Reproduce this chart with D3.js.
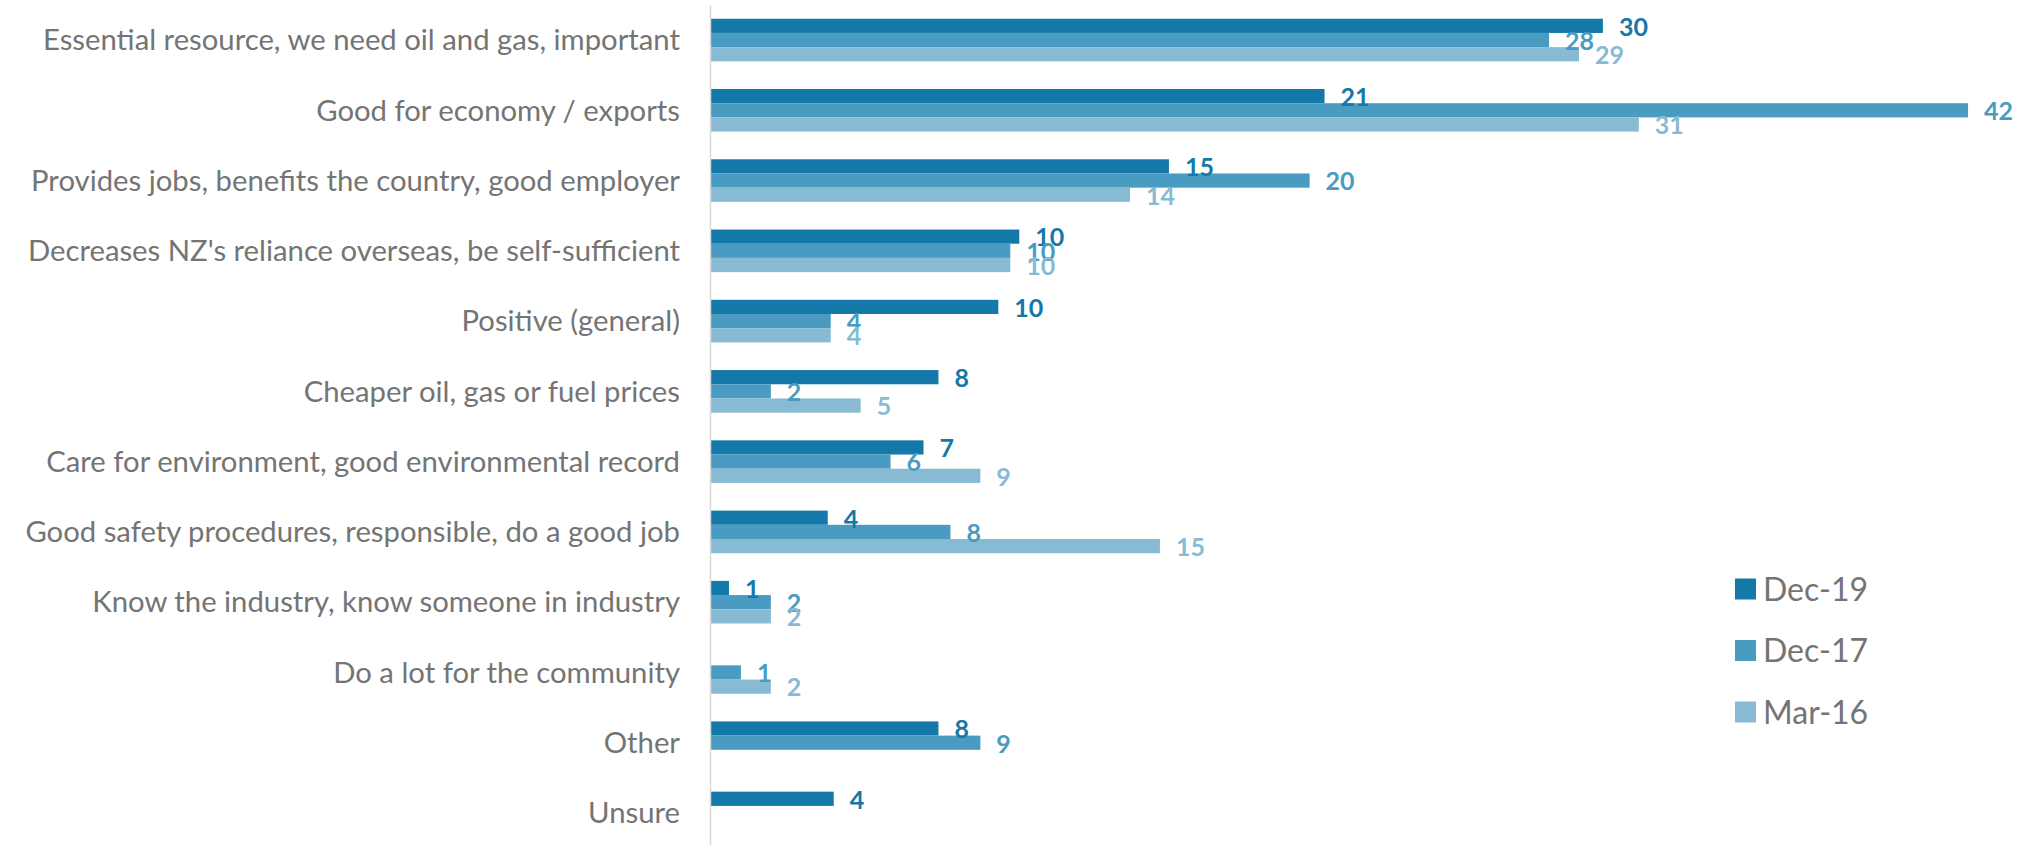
<!DOCTYPE html>
<html>
<head>
<meta charset="utf-8">
<script src="https://cdn.jsdelivr.net/npm/d3@7"></script>
<style>
  html, body { margin: 0; padding: 0; background: #fff; }
  svg { display: block; }
  .cat-label { font-family: Lato, "Open Sans", sans-serif; fill: #747474; }
  .val-label { font-family: Lato, "Open Sans", sans-serif; font-weight: bold; }
  .legend text { font-family: Lato, "Open Sans", sans-serif; fill: #747474; }
</style>
</head>
<body>
<div id="chart"></div>
<script>
// categories, top to bottom
var categories = [
  "Essential resource, we need oil and gas, important",
  "Good for economy / exports",
  "Provides jobs, benefits the country, good employer",
  "Decreases NZ's reliance overseas, be self-sufficient",
  "Positive (general)",
  "Cheaper oil, gas or fuel prices",
  "Care for environment, good environmental record",
  "Good safety procedures, responsible, do a good job",
  "Know the industry, know someone in industry",
  "Do a lot for the community",
  "Other",
  "Unsure"
];

var seriesNames = ["Dec-19", "Dec-17", "Mar-16"];

// percentages (null = no bar)
var dec19 = [29.8, 20.5, 15.3, 10.3, 9.6, 7.6, 7.1, 3.9, 0.6, null, 7.6, 4.1];
var dec17 = [28, 42, 20, 10, 4, 2, 6, 8, 2, 1, 9, null];
var mar16 = [29, 31, 14, 10, 4, 5, 9, 15, 2, 2, null, null];

var colors = ["#1478a8", "#4a9bc1", "#88bbd3"];

var W = 2025, H = 845;
var svg = d3.select("#chart").append("svg")
    .attr("width", W)
    .attr("height", H);

var seriesData = [dec19, dec17, mar16];

// scales
var x = d3.scaleLinear()
    .domain([0, 45])
    .range([711, 711 + 45 * 29.93]);

var y = d3.scaleBand()
    .domain(categories)
    .range([4.9, 848.1])
    .paddingInner(0.394)
    .paddingOuter(0.197);

var ySub = d3.scaleBand()
    .domain(seriesNames)
    .range([0, y.bandwidth()]);

// flatten for drawing
var bars = [];
categories.forEach(function(c, i) {
  seriesNames.forEach(function(s, j) {
    var v = seriesData[j][i];
    if (v !== null) bars.push({cat: c, series: s, idx: j, value: v});
  });
});

// bars
svg.append("g")
    .attr("class", "bars")
    .selectAll("rect")
    .data(bars)
    .enter()
    .append("rect")
    .attr("x", x(0))
    .attr("y", d => y(d.cat) + ySub(d.series))
    .attr("width", d => x(d.value) - x(0))
    .attr("height", ySub.bandwidth())
    .style("fill", d => colors[d.idx]);

// value labels
var valSize = 25;
svg.append("g")
    .attr("class", "val-labels")
    .selectAll("text")
    .data(bars)
    .enter()
    .append("text")
    .attr("class", "val-label")
    .attr("x", d => x(d.value) + 16)
    .attr("y", d => y(d.cat) + ySub(d.series) + ySub.bandwidth() / 2 + valSize * 0.36 + 0.8)
    .style("font-size", valSize + "px")
    .style("fill", d => colors[d.idx])
    .text(d => Math.round(d.value));

// vertical axis line
svg.append("line")
    .attr("x1", x(0) - 0.5)
    .attr("x2", x(0) - 0.5)
    .attr("y1", 5)
    .attr("y2", H)
    .style("stroke", "#d9d9d9")
    .style("stroke-width", 1.5);

// category labels, sized so the longest one fits the same width as the original
var catLabels = svg.append("g")
    .attr("class", "cat-labels")
    .selectAll("text")
    .data(categories)
    .enter()
    .append("text")
    .attr("class", "cat-label")
    .attr("x", 680)
    .attr("y", d => y(d) + y.bandwidth() / 2)
    .attr("dy", "0.35em")
    .attr("text-anchor", "end")
    .style("font-size", "30px")
    .text(d => d);

var maxW = d3.max(catLabels.nodes(), n => n.getComputedTextLength());
var catSize = 30 * 655 / maxW;
catLabels.style("font-size", catSize + "px");

// legend
var legend = svg.append("g")
    .attr("class", "legend")
    .selectAll("g")
    .data(seriesNames)
    .enter()
    .append("g")
    .attr("transform", (d, i) => `translate(1735, ${589 + i * 61.5})`);

legend.append("rect")
    .attr("x", 0)
    .attr("y", -10.5)
    .attr("width", 21)
    .attr("height", 21)
    .style("fill", (d, i) => colors[i]);

legend.append("text")
    .attr("x", 28)
    .attr("y", 0)
    .attr("dy", "0.36em")
    .style("font-size", "32px")
    .text(d => d);
</script>
</body>
</html>
